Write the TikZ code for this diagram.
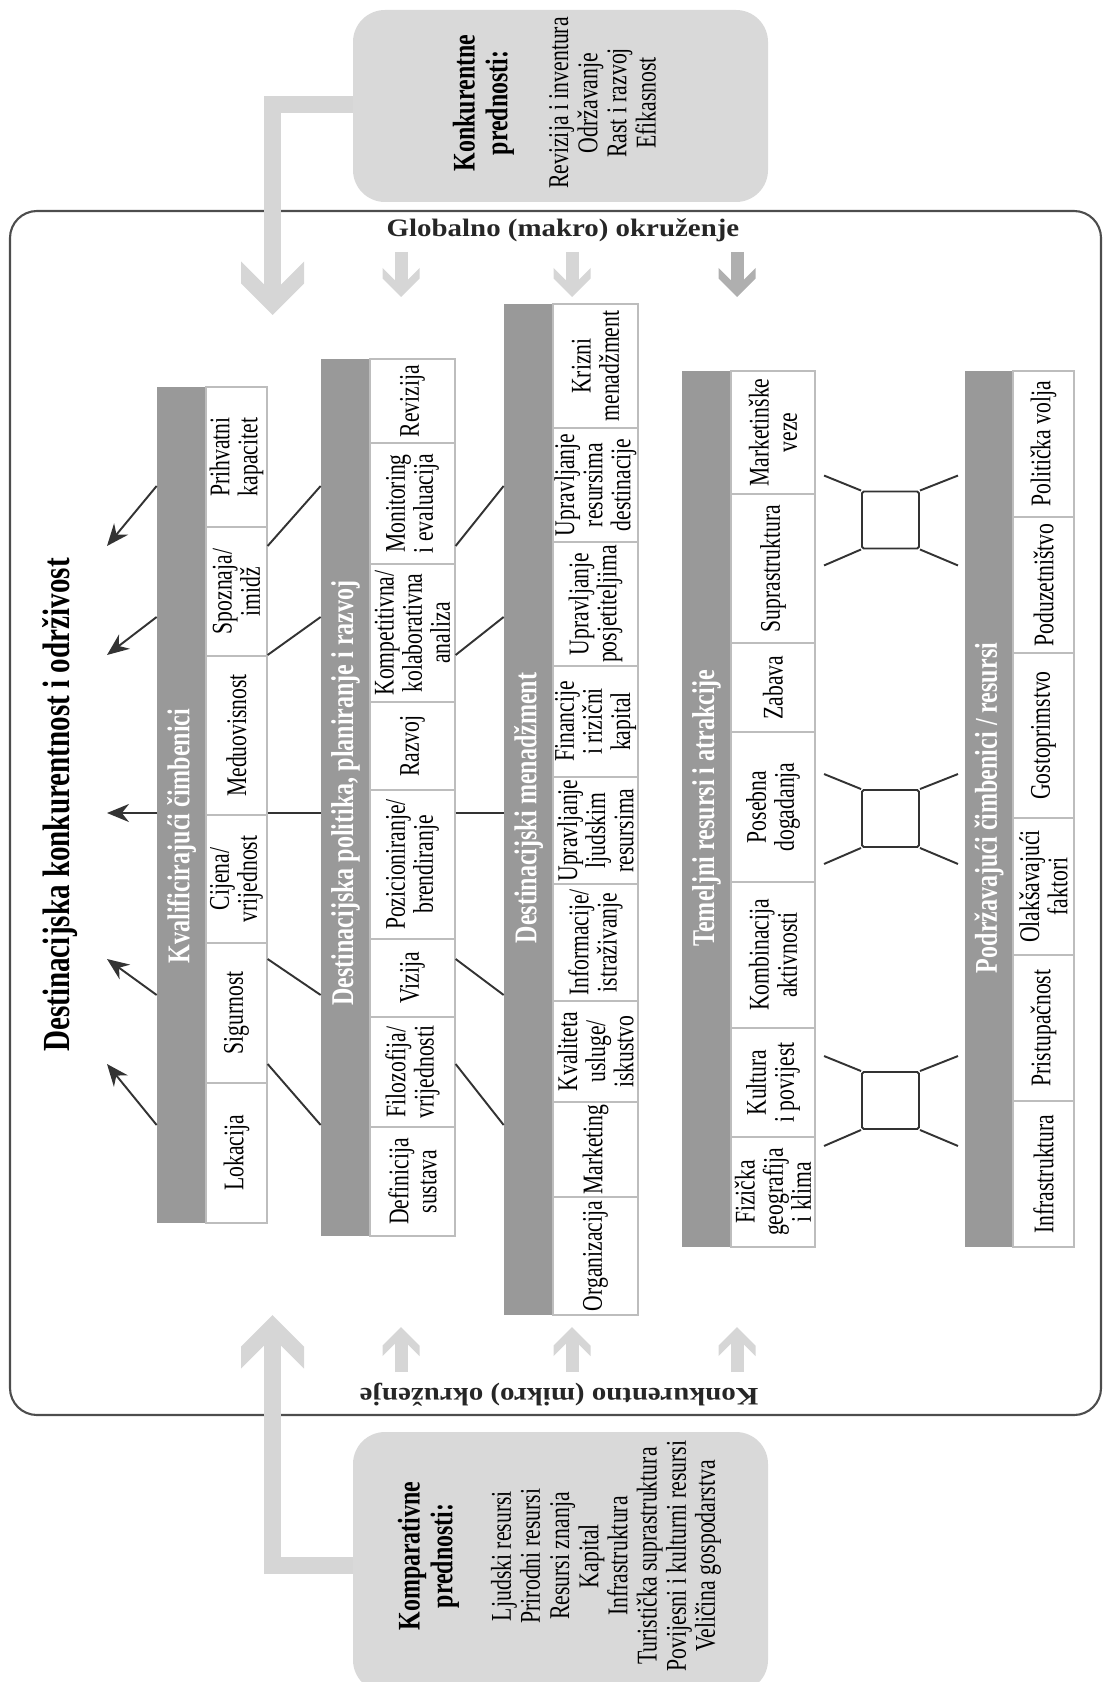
\documentclass[tikz,border=0pt]{standalone}
\usepackage{fontspec}
\setmainfont{Liberation Serif}[FakeStretch=0.76]
\newfontfamily\widefont{Liberation Serif}[FakeStretch=1.15]
\usetikzlibrary{arrows.meta, fit}

\definecolor{bargray}{HTML}{999999}
\definecolor{cellline}{HTML}{BDBDBD}
\definecolor{boxgray}{HTML}{D9D9D9}
\definecolor{flowgray}{HTML}{D6D6D6}
\definecolor{darkflow}{HTML}{AFAFAF}
\definecolor{framegray}{HTML}{4D4D4D}
\definecolor{linegray}{HTML}{333333}

\tikzset{
  pics/bighead/.style={code={\fill (-8.5,-30.5) -- (-31.5,-53.5) -- (-31.5,-31.5) -- (0,0) -- (31.5,-31.5) -- (31.5,-53.5) -- (8.5,-30.5) -- cycle;}},
  pics/smallhead/.style={code={\fill (-6.5,-17) -- (-18.5,-29) -- (-18.5,-18.5) -- (0,0) -- (18.5,-18.5) -- (18.5,-29) -- (6.5,-17) -- cycle;}}
}

\begin{document}
\begin{tikzpicture}[x=0.02cm, y=-0.02cm,
    bar/.style={fill=bargray, draw=none, inner sep=0pt},
    cellbox/.style={fill=white, draw=cellline, line width=0.7pt, inner sep=0pt},
    celltext/.style={rotate=90, align=center, inner sep=0pt, font={\fontsize{16.2}{16}\selectfont}},
    bartext/.style={rotate=90, text=white, inner sep=0pt, font={\fontsize{18}{19}\selectfont\bfseries}},
    advbox/.style={fill=boxgray, draw=none, rounded corners=0.64cm, inner sep=0pt},
    boxhead/.style={rotate=90, align=center, inner sep=0pt, font={\fontsize{17.9}{18.7}\selectfont\bfseries}},
    boxlist/.style={rotate=90, align=center, inner sep=0pt, font={\fontsize{16.3}{16.6}\selectfont}},
    envtext/.style={inner sep=0pt, text=black!85, font={\widefont\fontsize{14.3}{16}\selectfont\bfseries}},
    frame/.style={draw=framegray, line width=1.2pt, rounded corners=0.54cm, inner sep=0pt},
    fan/.style={draw=linegray, line width=1.1pt},
    sqbox/.style={draw=linegray, line width=1.1pt, rounded corners=1pt, minimum size=1.14cm, inner sep=0pt},
    flow/.style={draw=flowgray, line width=0.34cm}
]
\useasboundingbox (0,0) rectangle (1104,1682);

% okvir i okruzenje
\node[frame, fit={(10,211) (1101,1415)}] (env) {};
\node[envtext] (glob) at (563,230) {Globalno (makro) okruženje};
\node[envtext, rotate=180] (mikro) at (559,1395) {Konkurentno (mikro) okruženje};

% prednosti
\node[advbox, fit={(353,10) (768,202)}] (konk) {};
\node[advbox, fit={(353,1432) (768,1692)}] (komp) {};
\node[boxhead] (konkh) at (483.5,103) {Konkurentne\\prednosti:};
\node[boxlist] (konkl) at (602.5,103) {Revizija i inventura\\Održavanje\\Rast i razvoj\\Efikasnost};
\node[boxhead] (komph) at (428.5,1556) {Komparativne\\prednosti:};
\node[boxlist] (kompl) at (606,1556) {Ljudski resursi\\Prirodni resursi\\Resursi znanja\\Kapital\\Infrastruktura\\Turistička suprastruktura\\Povijesni i kulturni resursi\\Veličina gospodarstva};

% debele strelice
\coordinate (konkin) at (272.5,290);
\coordinate (kompin) at (272.5,1340);
\draw[flow] (konk.west |- 0,105) -| (konkin);
\pic[flowgray] at (272.5,315) {bighead};
\draw[flow] (komp.west |- 0,1565) -| (kompin);
\pic[flowgray, yscale=-1] at (272.5,1315) {bighead};
\foreach \x/\c in {401/flowgray, 572/flowgray, 737/darkflow}{
  \draw[\c, line width=0.26cm] (\x,252) -- (\x,285);
  \pic[\c] at (\x,297) {smallhead};
}
\foreach \x in {401, 572, 737}{
  \draw[flowgray, line width=0.26cm] (\x,1372) -- (\x,1340);
  \pic[flowgray, yscale=-1] at (\x,1327) {smallhead};
}

% naslov
\node[rotate=90, inner sep=0pt, font={\fontsize{21.8}{23}\selectfont\bfseries}] (title) at (60,805) {Destinacijska konkurentnost i održivost};

% Kvalificirajuci cimbenici
\node[bar, fit={(157,387) (206,1223)}] (bar1) {};
\node[bartext] (head1) at (bar1.center |- 0,836) {Kvalificirajući čimbenici};
\foreach \ya/\yb/\t [count=\i] in {387/527/{Prihvatni\\kapacitet}, 527/656/{Spoznaja/\\imidž},
    656/815/{Meduovisnost}, 815/943/{Cijena/\\vrijednost}, 943/1083/{Sigurnost}, 1083/1223/{Lokacija}}{
  \node[cellbox, fit={(206,\ya) (267,\yb)}] (k\i) {};
  \node[celltext] at (k\i.center) {\t};
}

% Destinacijska politika
\node[bar, fit={(321,359) (370,1236)}] (bar2) {};
\node[bartext] (head2) at (bar2.center |- 0,793) {Destinacijska politika, planiranje i razvoj};
\foreach \ya/\yb/\t [count=\i] in {359/443/{Revizija}, 443/564/{Monitoring\\i evaluacija},
    564/702/{Kompetitivna/\\kolaborativna\\analiza}, 702/790/{Razvoj}, 790/939/{Pozicioniranje/\\brendiranje},
    939/1017/{Vizija}, 1017/1127/{Filozofija/\\vrijednosti}, 1127/1236/{Definicija\\sustava}}{
  \node[cellbox, fit={(370,\ya) (455,\yb)}] (p\i) {};
  \node[celltext] at (p\i.center) {\t};
}

% Destinacijski menadzment
\node[bar, fit={(504,304) (553,1315)}] (bar3) {};
\node[bartext] (head3) at (bar3.center |- 0,808) {Destinacijski menadžment};
\foreach \ya/\yb/\t [count=\i] in {304/428/{Krizni\\menadžment}, 428/542/{Upravljanje\\resursima\\destinacije},
    542/666/{Upravljanje\\posjetiteljima}, 666/777/{Financije\\i rizični\\kapital},
    777/884/{Upravljanje\\ljudskim\\resursima}, 884/1001/{Informacije/\\istraživanje},
    1001/1102/{Kvaliteta\\usluge/\\iskustvo}, 1102/1197/{Marketing}, 1197/1315/{Organizacija}}{
  \node[cellbox, fit={(553,\ya) (638,\yb)}] (m\i) {};
  \node[celltext] at (m\i.center) {\t};
}

% Temeljni resursi
\node[bar, fit={(682,371) (731,1247)}] (bar4) {};
\node[bartext] (head4) at (bar4.center |- 0,808) {Temeljni resursi i atrakcije};
\foreach \ya/\yb/\t [count=\i] in {371/494/{Marketinške\\veze}, 494/643/{Suprastruktura}, 643/732/{Zabava},
    732/882/{Posebna\\dogadanja}, 882/1028/{Kombinacija\\aktivnosti}, 1028/1137/{Kultura\\i povijest},
    1137/1247/{Fizička\\geografija\\i klima}}{
  \node[cellbox, fit={(731,\ya) (815,\yb)}] (t\i) {};
  \node[celltext] at (t\i.center) {\t};
}

% Podrzavajuci cimbenici
\node[bar, fit={(965,371) (1013,1247)}] (bar5) {};
\node[bartext] (head5) at (bar5.center |- 0,808) {Podržavajući čimbenici / resursi};
\foreach \ya/\yb/\t [count=\i] in {371/517/{Politička volja}, 517/653/{Poduzetništvo}, 653/818/{Gostoprimstvo},
    818/955/{Olakšavajući\\faktori}, 955/1101/{Pristupačnost}, 1101/1247/{Infrastruktura}}{
  \node[cellbox, fit={(1013,\ya) (1074,\yb)}] (s\i) {};
  \node[celltext] at (s\i.center) {\t};
}

% veze
\foreach \l/\r [count=\i] in {546/486, 655/617, 813/813, 959/995, 1064/1125}{
  \coordinate (tip\i) at (107,\l);
  \draw[fan, -{Stealth[length=0.44cm, width=0.36cm]}] (bar1.west |- 0,\r) -- (tip\i);
  \draw[fan] (k1.east |- 0,\l) -- (bar2.west |- 0,\r);
  \draw[fan] (p1.east |- 0,\l) -- (bar3.west |- 0,\r);
}

% kvadrati
\foreach \y [count=\i] in {520, 818.5, 1100.5}{
  \node[sqbox] (sq\i) at (890.5,\y) {};
  \draw[fan] (sq\i.north west) -- ++(-37,-15);
  \draw[fan] (sq\i.south west) -- ++(-37,16);
  \draw[fan] (sq\i.north east) -- ++(38,-15);
  \draw[fan] (sq\i.south east) -- ++(38,16);
}
\end{tikzpicture}
\end{document}
